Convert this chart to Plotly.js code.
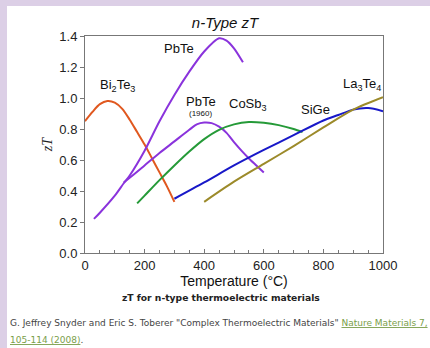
<!DOCTYPE html>
<html>
<head>
<meta charset="utf-8">
<script src="https://cdn.plot.ly/plotly-3.0.1.min.js"></script>
<style>
  html, body { margin:0; padding:0; width:430px; height:348px; background:#dccfe6; overflow:hidden; }
  #chart { position:absolute; left:7px; top:6px; width:423px; height:342px; background:#fff; }
</style>
</head>
<body>
<div id="chart"></div>
<script>
// Temperature (°C) and zT values
const bi2te3_T  = [0, 25, 50, 75, 100, 125, 150, 175, 200, 225, 250, 275, 300];
const bi2te3_zT = [0.85, 0.91, 0.96, 0.98, 0.97, 0.93, 0.86, 0.78, 0.70, 0.61, 0.52, 0.43, 0.33];

const pbte_T  = [30, 50, 100, 130, 150, 200, 250, 300, 350, 400, 450, 475, 500, 530];
const pbte_zT = [0.22, 0.26, 0.37, 0.45, 0.50, 0.66, 0.85, 1.02, 1.17, 1.30, 1.385, 1.37, 1.32, 1.23];

const pbte1960_T  = [130, 150, 200, 250, 300, 350, 375, 400, 425, 450, 475, 500, 525, 550, 575, 600];
const pbte1960_zT = [0.455, 0.485, 0.565, 0.645, 0.72, 0.795, 0.83, 0.842, 0.838, 0.815, 0.775, 0.715, 0.66, 0.61, 0.565, 0.52];

const cosb3_T  = [175, 200, 250, 300, 350, 400, 450, 500, 550, 600, 650, 700, 730];
const cosb3_zT = [0.32, 0.37, 0.47, 0.565, 0.655, 0.735, 0.795, 0.83, 0.845, 0.84, 0.825, 0.80, 0.78];

const sige_T  = [300, 400, 500, 600, 700, 800, 850, 900, 950, 1000];
const sige_zT = [0.35, 0.455, 0.565, 0.665, 0.76, 0.855, 0.89, 0.925, 0.935, 0.915];

const la3te4_T  = [400, 500, 600, 700, 800, 900, 1000];
const la3te4_zT = [0.33, 0.46, 0.575, 0.69, 0.81, 0.925, 1.005];

const xTickVals = [0, 200, 400, 600, 800, 1000];
const yTickVals = [0.0, 0.2, 0.4, 0.6, 0.8, 1.0, 1.2, 1.4];
const yTickText = ['0.0', '0.2', '0.4', '0.6', '0.8', '1.0', '1.2', '1.4'];

const curveLabels = [
  {text: 'Bi<sub>2</sub>Te<sub>3</sub>', x: 108, y: 1.08},
  {text: 'PbTe', x: 315, y: 1.32},
  {text: 'PbTe', x: 389, y: 0.98},
  {text: 'CoSb<sub>3</sub>', x: 546, y: 0.955},
  {text: 'SiGe', x: 773, y: 0.923},
  {text: 'La<sub>3</sub>Te<sub>4</sub>', x: 930, y: 1.09}
];

function line(x, y, color, name) {
  return {x: x, y: y, type: 'scatter', mode: 'lines', name: name,
          line: {color: color, width: 2, shape: 'spline', smoothing: 0.8}, hoverinfo: 'skip'};
}

const data = [
  line(bi2te3_T, bi2te3_zT, '#e0581f', 'Bi2Te3'),
  line(pbte_T, pbte_zT, '#8a33dc', 'PbTe'),
  line(pbte1960_T, pbte1960_zT, '#8a33dc', 'PbTe (1960)'),
  line(cosb3_T, cosb3_zT, '#259a38', 'CoSb3'),
  line(sige_T, sige_zT, '#1818c8', 'SiGe'),
  line(la3te4_T, la3te4_zT, '#9c8a2a', 'La3Te4')
];

const labelFont = {family: 'Liberation Sans, Arial, sans-serif', size: 13, color: '#111'};
const annotations = curveLabels.map(l => ({
  text: l.text, x: l.x, y: l.y, xref: 'x', yref: 'y', showarrow: false,
  font: labelFont, xanchor: 'center', yanchor: 'middle'
}));
annotations.push({text: '(1960)', x: 389, y: 0.90, xref: 'x', yref: 'y', showarrow: false,
  font: {family: 'Liberation Sans, Arial, sans-serif', size: 8, color: '#111'}});
annotations.push({text: '<b>zT for n-type thermoelectric materials</b>', xref: 'paper', yref: 'paper',
  x: 0.456, y: -0.207, xanchor: 'center', yanchor: 'middle', showarrow: false,
  font: {family: 'DejaVu Sans, sans-serif', size: 9.2, color: '#222'}});
annotations.push({text: 'G. Jeffrey Snyder and Eric S. Toberer "Complex Thermoelectric Materials" <span style="color:#7a9e4a"><u>Nature Materials 7,</u></span>',
  xref: 'paper', yref: 'paper', x: -0.258, y: -0.3226, xanchor: 'left', yanchor: 'middle', showarrow: false,
  font: {family: 'DejaVu Sans, sans-serif', size: 9, color: '#444'}});
annotations.push({text: '<span style="color:#7a9e4a"><u>105-114 (2008)</u></span>.',
  xref: 'paper', yref: 'paper', x: -0.258, y: -0.401, xanchor: 'left', yanchor: 'middle', showarrow: false,
  font: {family: 'DejaVu Sans, sans-serif', size: 9, color: '#444'}});

const axisFont = {family: 'Liberation Sans, Arial, sans-serif', size: 13, color: '#222'};

const layout = {
  width: 423, height: 342,
  margin: {l: 78, r: 47, t: 30, b: 95},
  paper_bgcolor: '#ffffff', plot_bgcolor: '#ffffff',
  showlegend: false,
  font: axisFont,
  title: {text: '<i>n-Type zT</i>', font: {family: 'Liberation Sans, Arial, sans-serif', size: 15, color: '#111'},
          xref: 'paper', x: 0.47, xanchor: 'center', yref: 'container', y: 0.95, yanchor: 'middle'},
  xaxis: {
    range: [0, 1000], tickvals: xTickVals, ticks: 'inside', ticklen: 4, tickcolor: '#777',
    minor: {dtick: 50, ticks: 'inside', ticklen: 3, tickcolor: '#777'},
    showline: true, linecolor: '#777', linewidth: 1, mirror: true, showgrid: false, zeroline: false,
    tickfont: axisFont,
    title: {text: 'Temperature (°C)', font: {family: 'Liberation Sans, Arial, sans-serif', size: 14, color: '#111'}, standoff: 4}
  },
  yaxis: {
    range: [0, 1.4], tickvals: yTickVals, ticktext: yTickText, ticks: 'outside', ticklen: 4, tickcolor: '#777',
    showline: true, linecolor: '#777', linewidth: 1, mirror: true, showgrid: false, zeroline: false,
    tickfont: axisFont,
    title: {text: '<i>zT</i>', font: {family: 'Liberation Serif, Times New Roman, serif', size: 14, color: '#222'}, standoff: 3}
  },
  annotations: annotations
};

Plotly.newPlot('chart', data, layout, {displayModeBar: false, staticPlot: true});
</script>
</body>
</html>
